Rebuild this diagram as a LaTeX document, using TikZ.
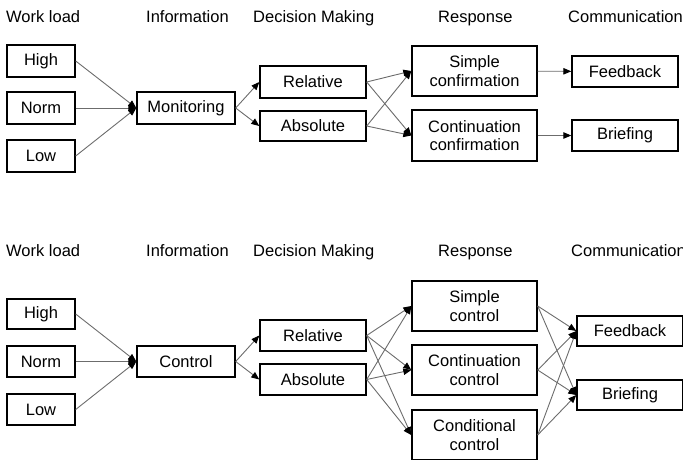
\documentclass[tikz,border=0pt]{standalone}
\usepackage{fontspec}
\setmainfont{Liberation Sans}
\usetikzlibrary{arrows.meta}

\begin{document}
\begin{tikzpicture}[x=1pt,y=-1pt,font=\fontsize{16.5}{18.5}\selectfont,
  box/.style={draw,line width=1.4pt,inner sep=0pt,align=center},
  head/.style={anchor=base west,inner sep=0pt},
  link/.style={draw=gray!85!black,line width=0.9pt,-{Triangle[black,length=8pt,width=6.5pt]}}]
\useasboundingbox (0,0) rectangle (683,459);
% upper chart
\node[head] (wl) at (6,22) {Work load};
\node[head] (inf) at (146,22) {Information};
\node[head] (dm) at (253,22) {Decision Making};
\node[head] (rsp) at (438,22) {Response};
\node[head] (com) at (568,22) {Communication};
\node[box,minimum width=68pt,minimum height=32pt] (high) at (41,61) {High};
\node[box,minimum width=68pt,minimum height=32pt] (norm) at (41,108) {Norm};
\node[box,minimum width=68pt,minimum height=32pt] (low) at (41,156) {Low};
\node[box,minimum width=98pt,minimum height=32pt] (mon) at (186,108) {Monitoring};
\node[box,minimum width=106pt,minimum height=32pt] (rel) at (313,82) {Relative};
\node[box,minimum width=106pt,minimum height=30pt] (abs) at (313,126) {Absolute};
\node[box,minimum width=125pt,minimum height=50pt] (sc) at (474.5,71) {Simple\\confirmation};
\node[box,minimum width=125pt,minimum height=51pt] (cc) at (474.5,135.5) {Continuation\\confirmation};
\node[box,minimum width=106pt,minimum height=31pt] (fb) at (625,71.5) {Feedback};
\node[box,minimum width=106pt,minimum height=31pt] (br) at (625,135.5) {Briefing};
\foreach \a in {high,norm,low}
  \draw[link] (\a.east) -- (mon.west);
\foreach \a in {rel,abs}
  \draw[link] (mon.east) -- (\a.west);
\foreach \a in {rel,abs}
  \foreach \b in {sc,cc}
    \draw[link] (\a.east) -- (\b.west);
\draw[link] (sc) -- (fb);
\draw[link] (cc) -- (br);
% lower chart
\node[head] (bwl) at (6,256) {Work load};
\node[head] (binf) at (146,256) {Information};
\node[head] (bdm) at (253,256) {Decision Making};
\node[head] (brsp) at (438,256) {Response};
\node[head] (bcom) at (571,256) {Communication};
\node[box,minimum width=68pt,minimum height=30pt] (bhigh) at (41,314) {High};
\node[box,minimum width=68pt,minimum height=31pt] (bnorm) at (41,361.5) {Norm};
\node[box,minimum width=68pt,minimum height=31pt] (blow) at (41,409.5) {Low};
\node[box,minimum width=98pt,minimum height=31pt] (bctl) at (186,361.5) {Control};
\node[box,minimum width=106pt,minimum height=31pt] (brel) at (313,335.5) {Relative};
\node[box,minimum width=106pt,minimum height=31pt] (babs) at (313,379.5) {Absolute};
\node[box,minimum width=125pt,minimum height=50pt] (bsc) at (474.5,306) {Simple\\control};
\node[box,minimum width=125pt,minimum height=50pt] (bcc) at (474.5,370) {Continuation\\control};
\node[box,minimum width=125pt,minimum height=50pt] (bcd) at (474.5,435) {Conditional\\control};
\node[box,minimum width=106pt,minimum height=30pt] (bfb) at (630,331) {Feedback};
\node[box,minimum width=106pt,minimum height=30pt] (bbr) at (630,395) {Briefing};
\foreach \a in {bhigh,bnorm,blow}
  \draw[link] (\a.east) -- (bctl.west);
\foreach \a in {brel,babs}
  \draw[link] (bctl.east) -- (\a.west);
\foreach \a in {brel,babs}
  \foreach \b in {bsc,bcc,bcd}
    \draw[link] (\a.east) -- (\b.west);
\foreach \a in {bsc,bcc,bcd}
  \foreach \b in {bfb,bbr}
    \draw[link] (\a.east) -- (\b.west);
\end{tikzpicture}
\end{document}
